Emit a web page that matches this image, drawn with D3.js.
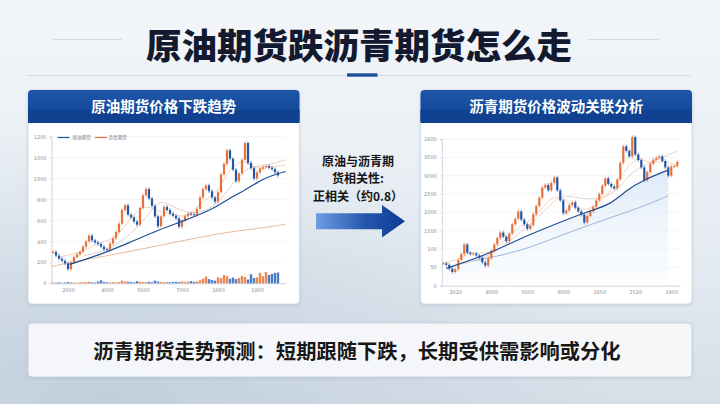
<!DOCTYPE html>
<html><head><meta charset="utf-8">
<script src="https://cdn.jsdelivr.net/npm/d3@7"></script>
<style>html,body{margin:0;padding:0;width:720px;height:404px;overflow:hidden;background:#e9eef4}</style>
</head><body><svg id="c" width="720" height="404"></svg>
<script>
// ---------- DATA ----------
const title = "原油期货跌沥青期货怎么走";
const leftHeader = "原油期货价格下跌趋势";
const rightHeader = "沥青期货价格波动关联分析";
const midLines = ["原油与沥青期", "货相关性:", "正相关（约0.8）"];
const bottomText = "沥青期货走势预测：短期跟随下跌，长期受供需影响或分化";
const legendNames = ["原油期货", "沥青期货"];

// left chart
const leftYTicks = [0, 200, 400, 600, 800, 1000, 1200, 1400];
const leftYLabels = ["0", "200", "400", "600", "800", "1000", "1000", "1200"];
const leftXTicks = [5, 18, 30, 43, 55, 68];
const leftXLabels = ["2000", "4000", "5000", "7000", "1660", "1900"];
const leftClose = [300,265,235,215,190,135,200,250,275,300,350,400,455,410,390,375,350,325,320,380,
  430,490,570,700,745,655,630,590,560,720,840,900,810,740,640,545,640,730,700,665,
  645,620,540,600,640,665,660,650,710,820,900,935,880,820,780,870,1040,1140,1270,1190,
  1085,975,1050,1180,1340,1150,1100,1000,1060,1095,1110,1120,1105,1090,1060,1030];
const leftVol = [5,4,6,3,5,8,6,5,4,7,6,8,10,6,5,12,20,8,6,5,7,6,8,18,12,10,8,6,14,10,9,
  8,10,7,18,12,9,8,6,7,9,10,8,12,9,11,14,10,12,20,30,45,28,22,18,40,35,55,48,30,38,
  28,35,50,42,25,60,35,40,70,48,75,55,62,70,72];
const leftMaMain = [[5.5,181],[14,255],[25,382],[36,520],[43,589],[54,717],[58,800],[64,890],[68,960],[70,995],[74,1040],[77.5,1067]];
const leftMaLong = [[-0.5,160],[6,200],[25,300],[42,400],[58,490],[69,525],[77.5,564]];
const leftMaFast = [[2,250],[10,300],[16,400],[21,420],[26,640],[31,760],[35,680],[40,660],[45,620],[50,800],[55,860],[59,1120],[64,1180],[68,1080],[72,1110],[77.5,1130]];
const leftMaMid = [[10,260],[20,330],[28,520],[34,740],[36,796],[42,700],[47,660],[54,720],[60,960],[65,1120],[70,1115],[77.5,1178]];

// right chart
const rightYTicks = [0, 200, 400, 600, 800, 1000, 1200, 1400, 1600];
const rightYLabels = ["0", "50", "100", "1500", "2000", "2500", "3000", "3500", "1600"];
const rightXTicks = [4, 16, 28, 40, 52, 64, 76];
const rightXLabels = ["2020", "4000", "5000", "6000", "1650", "1520", "1900"];
const rightClose = [244,228,185,150,180,280,345,450,360,345,350,330,305,255,220,300,380,450,520,580,
  535,485,570,670,730,810,720,670,620,660,780,870,960,1070,1100,1040,1120,1180,1040,930,
  790,820,880,910,850,810,775,690,760,810,860,930,1000,1090,1170,1110,1080,1060,1160,1340,
  1520,1470,1410,1620,1430,1370,1290,1150,1240,1330,1375,1395,1410,1360,1290,1200,1300,1305,1350];
const rightMaMain = [[1,189],[14.4,335],[25.6,516],[36.7,662],[47.8,807],[55.6,880],[61.1,1044],[66.7,1153],[75,1262]];
const rightMaSlow = [[10,270],[14.4,298],[27.2,389],[42.2,589],[58.9,778],[67.8,880],[75,982]];
const rightMaFast = [[0,240],[6,300],[10,380],[15,330],[20,480],[25,640],[30,720],[34,900],[38,1000],[42,900],[47,800],[52,900],[57,1080],[61,1280],[65,1420],[69,1320],[73,1380],[78,1300]];
const rightMaMid = [[5,230],[15,300],[25,560],[32,760],[38,960],[41,990],[47,940],[53,950],[58,1040],[63,1250],[68,1330],[73,1400],[78,1470]];

// ---------- DRAW ----------
const CJK = '"Noto Sans CJK SC","Noto Sans",sans-serif';
const UP = "#e8703a", DOWN = "#2456a6";
const svg = d3.select("#c");
const defs = svg.append("defs");

function lin(id, x2, y2, stops) {
  const g = defs.append("linearGradient").attr("id", id).attr("x1", 0).attr("y1", 0).attr("x2", x2).attr("y2", y2);
  stops.forEach(s => g.append("stop").attr("offset", s[0]).attr("stop-color", s[1]).attr("stop-opacity", s[2] == null ? 1 : s[2]));
}
lin("bg", 0, 1, [["0%", "#f3f6f9"], ["55%", "#e7edf3"], ["100%", "#d6dfe8"]]);
lin("hdr", 0, 1, [["0%", "#1e57ab"], ["100%", "#0f4190"]]);
lin("arrow", 1, 0, [["0%", "#6f9de2"], ["55%", "#2557ae"], ["100%", "#0c3b92"]]);
lin("area", 0, 1, [["0%", "#d3e3f5", 0.75], ["100%", "#f2f7fc", 0.3]]);
const rg = defs.append("radialGradient").attr("id", "haze").attr("cx", 0.15).attr("cy", 1).attr("r", 0.7);
rg.append("stop").attr("offset", "0%").attr("stop-color", "#bccbda").attr("stop-opacity", 0.8);
rg.append("stop").attr("offset", "100%").attr("stop-color", "#bccbda").attr("stop-opacity", 0);
const sh = defs.append("filter").attr("id", "shadow").attr("x", -0.05).attr("y", -0.05).attr("width", 1.1).attr("height", 1.1);
sh.append("feDropShadow").attr("dx", 0).attr("dy", 1).attr("stdDeviation", 1.5).attr("flood-color", "#6a7f99").attr("flood-opacity", 0.25);

svg.append("rect").attr("width", 720).attr("height", 404).attr("fill", "url(#bg)");
svg.append("rect").attr("width", 720).attr("height", 404).attr("fill", "url(#haze)");

// title
svg.append("line").attr("x1", 53).attr("x2", 122).attr("y1", 39.5).attr("y2", 39.5).attr("stroke", "#d3dae3").attr("stroke-width", 1);
svg.append("line").attr("x1", 588).attr("x2", 659).attr("y1", 39.5).attr("y2", 39.5).attr("stroke", "#d3dae3").attr("stroke-width", 1);
svg.append("text").attr("x", 359).attr("y", 58.5).attr("text-anchor", "middle")
  .attr("font-family", CJK).attr("font-weight", 900).attr("font-size", 35.5).attr("fill", "#131a30").text(title);
svg.append("line").attr("x1", 28).attr("x2", 691).attr("y1", 75.5).attr("y2", 75.5).attr("stroke", "#d0d8e1").attr("stroke-width", 1);
svg.append("rect").attr("x", 347).attr("y", 73.3).attr("width", 30.5).attr("height", 3.4).attr("fill", "#1d4f9f");

// panels
function panel(x, w, label) {
  const g = svg.append("g");
  g.append("rect").attr("x", x).attr("y", 90).attr("width", w).attr("height", 214).attr("rx", 4)
    .attr("fill", "#ffffff").attr("stroke", "#cdd7e3").attr("stroke-width", 0.8).attr("filter", "url(#shadow)");
  g.append("rect").attr("x", x).attr("y", 90).attr("width", w).attr("height", 33).attr("rx", 4).attr("fill", "url(#hdr)");
  g.append("rect").attr("x", x).attr("y", 110).attr("width", w).attr("height", 13).attr("fill", "#0f4190");
  g.append("text").attr("x", x + w / 2).attr("y", 111.5).attr("text-anchor", "middle")
    .attr("font-family", CJK).attr("font-weight", 700).attr("font-size", 14.5).attr("fill", "#ffffff").text(label);
}
panel(28, 271.5, leftHeader);
panel(420.5, 271.5, rightHeader);

// middle
midLines.forEach((t, i) => svg.append("text").attr("x", 358).attr("y", 165.5 + i * 17.6).attr("text-anchor", "middle")
  .attr("font-family", CJK).attr("font-weight", 600).attr("font-size", 12).attr("fill", "#151515").text(t));
svg.append("polygon").attr("points", "316,213.3 382,213.3 382,205 405,221.3 382,237.5 382,229.3 316,229.3").attr("fill", "url(#arrow)");

// bottom box
svg.append("rect").attr("x", 28).attr("y", 323).attr("width", 664).attr("height", 54).attr("rx", 4)
  .attr("fill", "#f8fafc").attr("fill-opacity", 0.92).attr("stroke", "#c6d1dd").attr("stroke-width", 0.9).attr("filter", "url(#shadow)");
svg.append("text").attr("x", 357).attr("y", 358.8).attr("text-anchor", "middle")
  .attr("font-family", CJK).attr("font-weight", 600).attr("font-size", 20.3).attr("fill", "#171717").text(bottomText);

// chart builder
function chart(o) {
  const g = svg.append("g");
  const x = d3.scaleLinear().domain(o.xDom).range(o.xRange);
  const y = d3.scaleLinear().domain([0, o.yMax]).range(o.yRange);
  g.append("g").selectAll("line").data(o.yTicks.slice(1)).join("line")
    .attr("x1", o.xRange[0]).attr("x2", o.xRange[1]).attr("y1", d => y(d)).attr("y2", d => y(d))
    .attr("stroke", "#eceef2").attr("stroke-width", 0.6);
  const ya = g.append("g").attr("transform", `translate(${o.xRange[0]},0)`)
    .call(d3.axisLeft(y).tickValues(o.yTicks).tickFormat((d, i) => o.yLabels[i]).tickSize(2).tickPadding(3));
  const xa = g.append("g").attr("transform", `translate(0,${o.yRange[0]})`)
    .call(d3.axisBottom(x).tickValues(o.xTicks).tickFormat((d, i) => o.xLabels[i]).tickSize(0).tickPadding(5));
  [ya, xa].forEach(a => {
    a.select(".domain").attr("stroke", "#c4c8ce").attr("stroke-width", 0.8);
    a.selectAll(".tick line").attr("stroke", "#c4c8ce").attr("stroke-width", 0.6);
    a.selectAll("text").attr("font-family", "DejaVu Sans").attr("font-size", 5).attr("fill", "#8a8f96");
  });
  const line = d3.line().x(d => x(d[0])).y(d => y(d[1])).curve(d3.curveBasis);
  if (o.area) {
    const area = d3.area().x(d => x(d[0])).y0(o.yRange[0]).y1(d => y(d[1])).curve(d3.curveBasis);
    g.append("path").datum(o.area).attr("d", area).attr("fill", "url(#area)");
  }
  if (o.vol) {
    const yv = d3.scaleLinear().domain([0, 100]).range([o.yRange[0], o.yRange[0] - 15]);
    g.append("g").selectAll("rect").data(o.vol).join("rect")
      .attr("x", (d, i) => x(i) - 1.2).attr("width", 2.4)
      .attr("y", d => yv(d)).attr("height", d => yv(0) - yv(d))
      .attr("fill", (d, i) => (i === 0 || o.close[i] >= o.close[i - 1]) ? "#ea7c45" : "#3d72c4").attr("opacity", 0.92);
  }
  o.lines.forEach(l => g.append("path").datum(l.data).attr("d", line).attr("fill", "none")
    .attr("stroke", l.color).attr("stroke-width", l.w).attr("stroke-opacity", l.op || 1));
  const cg = g.append("g");
  o.close.forEach((c, i) => {
    const op = i === 0 ? c : o.close[i - 1];
    const up = c >= op;
    const col = up ? UP : DOWN;
    const top = y(Math.max(op, c)), bot = y(Math.min(op, c));
    cg.append("line").attr("x1", x(i)).attr("x2", x(i)).attr("y1", top - 1.8).attr("y2", bot + 1.8)
      .attr("stroke", col).attr("stroke-width", 0.6);
    cg.append("rect").attr("x", x(i) - 1.1).attr("width", 2.2).attr("y", top).attr("height", Math.max(1, bot - top)).attr("fill", col);
  });
  o.top.forEach(l => g.append("path").datum(l.data).attr("d", line).attr("fill", "none")
    .attr("stroke", l.color).attr("stroke-width", l.w));
  return { x, y, g };
}

const L = chart({
  xDom: [-0.5, 77.5], xRange: [51.5, 285.5], yMax: 1400, yRange: [283.3, 136.7],
  yTicks: leftYTicks, yLabels: leftYLabels, xTicks: leftXTicks, xLabels: leftXLabels,
  close: leftClose, vol: leftVol,
  lines: [
    { data: leftMaLong, color: "#e2a77f", w: 0.8 },
    { data: leftMaMid, color: "#c9b6a6", w: 0.6 },
    { data: leftMaFast, color: "#f0b38c", w: 0.6 }
  ],
  top: [{ data: leftMaMain, color: "#1f4f94", w: 1.2 }]
});
const lg = L.g.append("g");
[["#1f4f94", 57.5, 72.5], ["#e8703a", 95, 108.5]].forEach((d, i) => {
  lg.append("line").attr("x1", d[1]).attr("x2", d[1] + 12).attr("y1", 137.5).attr("y2", 137.5).attr("stroke", d[0]).attr("stroke-width", 1.2);
  lg.append("text").attr("x", d[2]).attr("y", 139.2).attr("font-family", CJK).attr("font-size", 4.6).attr("fill", "#777").text(legendNames[i]);
});

chart({
  xDom: [-0.5, 79], xRange: [441.8, 680.3], yMax: 1600, yRange: [285.7, 139],
  yTicks: rightYTicks, yLabels: rightYLabels, xTicks: rightXTicks, xLabels: rightXLabels,
  close: rightClose, area: rightMaMain,
  lines: [
    { data: rightMaSlow, color: "#8fb0d8", w: 0.9 },
    { data: rightMaMid, color: "#cdb9a8", w: 0.6 },
    { data: rightMaFast, color: "#f0b38c", w: 0.6 }
  ],
  top: [{ data: rightMaMain, color: "#1f4f94", w: 1.2 }]
});
</script></body></html>
